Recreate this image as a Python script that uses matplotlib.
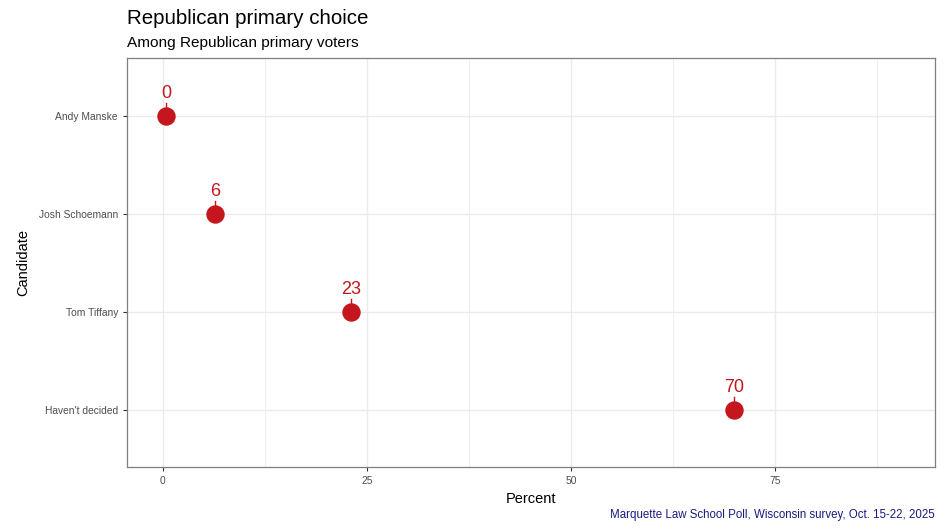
import numpy as np
import matplotlib.pyplot as plt

plt.rcParams['font.family'] = ['Liberation Sans', 'DejaVu Sans']

# data
candidates = ["Haven't decided", "Tom Tiffany", "Josh Schoemann", "Andy Manske"]
pct = [70.0, 23.0, 6.4, 0.4]
labels = ["70", "23", "6", "0"]

red = '#C4161C'

fig = plt.figure(figsize=(9.46, 5.31), dpi=100)
ax = fig.add_axes([127/946, 1-467/531, (935-127)/946, (467-58)/531])

ypos = np.arange(1, len(candidates)+1)
ax.scatter(pct, ypos, s=150, color=red, zorder=3)
for x, y, lab in zip(pct, ypos, labels):
    ax.plot([x, x], [y+0.05, y+0.135], color=red, lw=1, zorder=3)
    ax.text(x, y+0.145, lab, color=red, fontsize=13, ha='center', va='bottom')

ax.set_xlim(-4.41, 94.6)
ax.set_ylim(0.42, 4.59)
ax.set_xticks([0, 25, 50, 75])
ax.set_xticks([12.5, 37.5, 62.5, 87.5], minor=True)
ax.set_yticks(ypos)
ax.set_yticklabels(candidates)
ax.grid(True, which='major', color='#EBEBEB', lw=1)
ax.grid(True, which='minor', axis='x', color='#EBEBEB', lw=0.6)
ax.set_axisbelow(True)
for s in ax.spines.values():
    s.set_color('#7F7F7F')
    s.set_linewidth(0.9)
ax.tick_params(which='major', colors='#333333', labelsize=7.4, length=3, labelcolor='#4D4D4D')
ax.tick_params(which='minor', length=0)
ax.set_xlabel('Percent', fontsize=10.5, labelpad=4)
ax.set_ylabel('Candidate', fontsize=10.5, labelpad=6)

fig.text(127/946, 1-18/531, 'Republican primary choice', fontsize=14.8, va='center')
fig.text(127/946, 1-43/531, 'Among Republican primary voters', fontsize=11.1, va='center')
fig.text(935/946, 1-515/531, 'Marquette Law School Poll, Wisconsin survey, Oct. 15-22, 2025',
         fontsize=8.3, color='#1A1A80', ha='right', va='center')

fig.savefig('out.png', dpi=100)
